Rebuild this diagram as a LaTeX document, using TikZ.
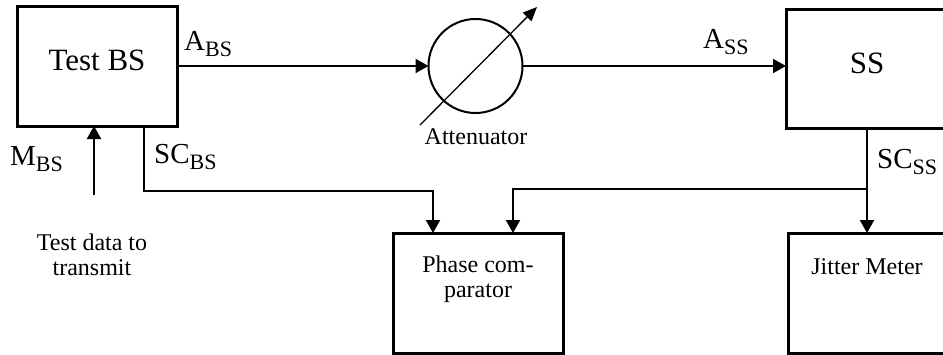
\documentclass[tikz,border=0pt]{standalone}
\usepackage{fontspec}
\setmainfont{Liberation Serif}
\usetikzlibrary{arrows.meta}
\newcommand\sublab[2]{{\fontsize{29}{29}\selectfont #1\raisebox{-6pt}{\fontsize{22}{22}\selectfont #2}}}
\begin{document}
\begin{tikzpicture}[x=1pt,y=-1pt,
  box/.style={draw,line width=3pt,inner sep=0pt,outer sep=0pt,rectangle},
  conn/.style={line width=2pt,-{Triangle[length=13pt,width=14pt]}},
  big/.style={font=\fontsize{31}{31}\selectfont,inner sep=0pt},
  small/.style={font=\fontsize{24}{25}\selectfont,inner sep=0pt,align=center},
  lab/.style={inner sep=0pt,anchor=base west}]
\useasboundingbox (0,0) rectangle (943,354);
\clip (0,0) rectangle (943,354);
% boxes
\node[box,minimum width=160pt,minimum height=120pt] (bs) at (97,66) {};
\node[box,minimum width=162pt,minimum height=119pt] (ss) at (867,68.5) {};
\node[box,minimum width=170pt,minimum height=120pt] (ph) at (478,293) {};
\node[box,minimum width=160pt,minimum height=120pt] (jm) at (868,293) {};
\node[draw,circle,line width=2pt,minimum size=94pt,inner sep=0pt,outer sep=0pt] (att) at (475.5,66) {};
% box texts
\node[big] (bst) at (97,60) {Test BS};
\node[big] (sst) at (867,63) {SS};
\node[small] (pht) at (478,279) {Phase com-\\parator};
\node[small] (jmt) at (867,267) {Jitter Meter};
\node[small] (attt) at (476,137) {Attenuator};
\node[small] (tdt) at (92,255) {Test data to\\transmit};
% labels
\node[lab] (abs) at (184,50) {\sublab{A}{BS}};
\node[lab] (ass) at (703,48) {\sublab{A}{SS}};
\node[lab] (mbs) at (10,165) {\sublab{M}{BS}};
\node[lab] (scbs) at (154,163) {\sublab{SC}{BS}};
\node[lab] (scss) at (877,168) {\sublab{SC}{SS}};
% connectors
\draw[conn] (bs.east) -- (att.west);
\draw[conn] (att.east) -- (ss.west |- att.east);
\coordinate (d1) at (420,125);
\coordinate (d2) at (537,7);
\draw[line width=1.3pt,-{Triangle[length=14pt,width=12pt]}] (d1) -- (d2);
\coordinate (ms) at (94,195);
\draw[conn] (ms) -- (ms |- bs.south);
\coordinate (scb) at (144,191);
\draw[conn] (scb |- bs.south) -- (scb) -| ([xshift=-45pt]ph.north);
\draw[conn] (ss.south) -- (ss.south |- jm.north);
\coordinate (br) at (867,189);
\draw[conn] (br) -| ([xshift=35pt]ph.north);
\end{tikzpicture}
\end{document}
